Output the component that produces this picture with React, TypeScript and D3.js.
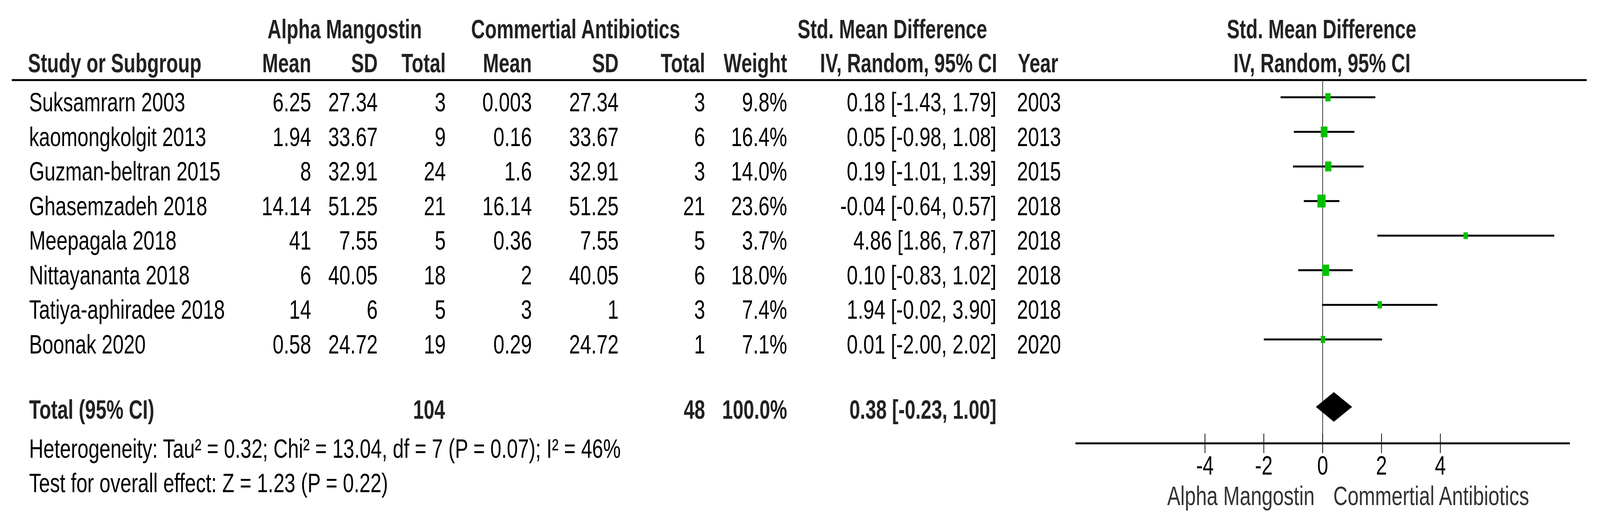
import React, { useEffect } from 'react';
import * as d3 from 'd3';

const studies = ['Suksamrarn 2003', 'kaomongkolgit 2013', 'Guzman-beltran 2015', 'Ghasemzadeh 2018', 'Meepagala 2018', 'Nittayananta 2018', 'Tatiya-aphiradee 2018', 'Boonak 2020'];
const amMean = [6.25, 1.94, 8, 14.14, 41, 6, 14, 0.58];
const amSD = [27.34, 33.67, 32.91, 51.25, 7.55, 40.05, 6, 24.72];
const amTotal = [3, 9, 24, 21, 5, 18, 5, 19];
const caMean = [0.003, 0.16, 1.6, 16.14, 0.36, 2, 3, 0.29];
const caSD = [27.34, 33.67, 32.91, 51.25, 7.55, 40.05, 1, 24.72];
const caTotal = [3, 6, 3, 21, 5, 6, 3, 1];
const weights = [9.8, 16.4, 14.0, 23.6, 3.7, 18.0, 7.4, 7.1];
const smd = [0.18, 0.05, 0.19, -0.04, 4.86, 0.10, 1.94, 0.01];
const ciLow = [-1.43, -0.98, -1.01, -0.64, 1.86, -0.83, -0.02, -2.00];
const ciHigh = [1.79, 1.08, 1.39, 0.57, 7.87, 1.02, 3.90, 2.02];
const years = [2003, 2013, 2015, 2018, 2018, 2018, 2018, 2020];

const total = { am: 104, ca: 48, weight: 100.0, smd: 0.38, low: -0.23, high: 1.00 };
const xTicks = [-4, -2, 0, 2, 4];
const heterogeneity = 'Heterogeneity: Tau² = 0.32; Chi² = 13.04, df = 7 (P = 0.07); I² = 46%';
const overall = 'Test for overall effect: Z = 1.23 (P = 0.22)';

const W = 4350;
const H = 1321;
const FS = 69;
const FONT = "'Liberation Sans', Arial, sans-serif";

type TProps = { x: number; y: number; anchor?: 'start' | 'middle' | 'end'; bold?: boolean; fill?: string; children: React.ReactNode };
// narrow-looking text: regular Arial metrics squeezed horizontally
function T({ x, y, anchor = 'start', bold = false, fill, children }: TProps) {
  const sx = bold ? 0.755 : 0.78;
  return (
    <text
      transform={`translate(${x},${y}) scale(${sx},1)`}
      textAnchor={anchor}
      fontFamily={FONT}
      fontSize={FS}
      fontWeight={bold ? 'bold' : 'normal'}
      fill={fill || (bold ? '#222' : '#000')}
    >
      {children}
    </text>
  );
}

export default function App() {
  useEffect(() => {
    document.body.style.margin = '0';
  }, []);

  const x = d3.scaleLinear().domain([-8.4, 8.4]).range([2924, 4268]);
  const y = d3.scaleLinear().domain([0, 7]).range([249, 869]);
  const totalY = y(8.95);
  const boxW = d3.scaleSqrt().domain([0, d3.max(weights)!]).range([0, 22]);
  const boxH = d3.scaleSqrt().domain([0, d3.max(weights)!]).range([0, 33]);

  const fmt = (v: number) => v.toFixed(2);
  const ci = (m: number, l: number, h: number) => `${fmt(m)} [${fmt(l)}, ${fmt(h)}]`;

  const axisY = 1135;
  const headerLineY = 205;

  const diamond = d3.line<[number, number]>()([
    [x(total.low), totalY],
    [x(total.smd), totalY - 38],
    [x(total.high), totalY],
    [x(total.smd), totalY + 38],
  ]) + 'Z';

  return (
    <svg
      viewBox={`0 0 ${W} ${H}`}
      preserveAspectRatio="none"
      style={{ position: 'fixed', left: 0, top: 0, width: '100vw', height: '100vh', background: '#fff', display: 'block' }}
    >
      <rect width={W} height={H} fill="#fff" />

      {/* group headers */}
      <T x={937} y={98} anchor="middle" bold>Alpha Mangostin</T>
      <T x={1565} y={98} anchor="middle" bold>Commertial Antibiotics</T>
      <T x={2426} y={98} anchor="middle" bold>Std. Mean Difference</T>
      <T x={3593} y={98} anchor="middle" bold>Std. Mean Difference</T>

      {/* column headers */}
      <T x={76} y={185} bold>Study or Subgroup</T>
      <T x={846} y={185} anchor="end" bold>Mean</T>
      <T x={1027} y={185} anchor="end" bold>SD</T>
      <T x={1212} y={185} anchor="end" bold>Total</T>
      <T x={1446} y={185} anchor="end" bold>Mean</T>
      <T x={1682} y={185} anchor="end" bold>SD</T>
      <T x={1917} y={185} anchor="end" bold>Total</T>
      <T x={2140} y={185} anchor="end" bold>Weight</T>
      <T x={2711} y={185} anchor="end" bold>IV, Random, 95% CI</T>
      <T x={2767} y={185} bold>Year</T>
      <T x={3594} y={185} anchor="middle" bold>IV, Random, 95% CI</T>

      <line x1={32} x2={4314} y1={headerLineY} y2={headerLineY} stroke="#000" strokeWidth={5} />

      {/* zero line */}
      <line x1={x(0)} x2={x(0)} y1={headerLineY} y2={axisY} stroke="#333" strokeWidth={2} />

      {studies.map((s, i) => {
        const ty = y(i) + 36;
        return (
          <g key={s}>
            <T x={79} y={ty}>{s}</T>
            <T x={846} y={ty} anchor="end">{amMean[i]}</T>
            <T x={1027} y={ty} anchor="end">{amSD[i]}</T>
            <T x={1212} y={ty} anchor="end">{amTotal[i]}</T>
            <T x={1446} y={ty} anchor="end">{caMean[i]}</T>
            <T x={1682} y={ty} anchor="end">{caSD[i]}</T>
            <T x={1917} y={ty} anchor="end">{caTotal[i]}</T>
            <T x={2140} y={ty} anchor="end">{weights[i].toFixed(1)}%</T>
            <T x={2709} y={ty} anchor="end">{ci(smd[i], ciLow[i], ciHigh[i])}</T>
            <T x={2765} y={ty}>{years[i]}</T>

            <line x1={x(ciLow[i])} x2={x(ciHigh[i])} y1={y(i)} y2={y(i)} stroke="#000" strokeWidth={5} />
            <rect
              x={x(smd[i]) - Math.max(12, boxW(weights[i])) / 2}
              y={y(i) - Math.max(17, boxH(weights[i])) / 2}
              width={Math.max(12, boxW(weights[i]))}
              height={Math.max(17, boxH(weights[i]))}
              fill="#00c000"
            />
          </g>
        );
      })}

      {/* total row */}
      <T x={79} y={1072} bold>Total (95% CI)</T>
      <T x={1210} y={1072} anchor="end" bold>{total.am}</T>
      <T x={1917} y={1072} anchor="end" bold>{total.ca}</T>
      <T x={2140} y={1072} anchor="end" bold>{total.weight.toFixed(1)}%</T>
      <T x={2709} y={1072} anchor="end" bold>{ci(total.smd, total.low, total.high)}</T>
      <path d={diamond} fill="#000" />

      <T x={79} y={1172}>{heterogeneity}</T>
      <T x={79} y={1260}>{overall}</T>

      {/* axis */}
      <line x1={x.range()[0]} x2={x.range()[1]} y1={axisY} y2={axisY} stroke="#000" strokeWidth={5} />
      {xTicks.map(t => (
        <g key={t}>
          <line x1={x(t)} x2={x(t)} y1={axisY - 25} y2={axisY + 25} stroke="#000" strokeWidth={2} />
          <T x={x(t)} y={1215} anchor="middle">{t}</T>
        </g>
      ))}
      <T x={x(0) - 22} y={1293} anchor="end" fill="#333">Alpha Mangostin</T>
      <T x={x(0) + 29} y={1293} fill="#333">Commertial Antibiotics</T>
    </svg>
  );
}
